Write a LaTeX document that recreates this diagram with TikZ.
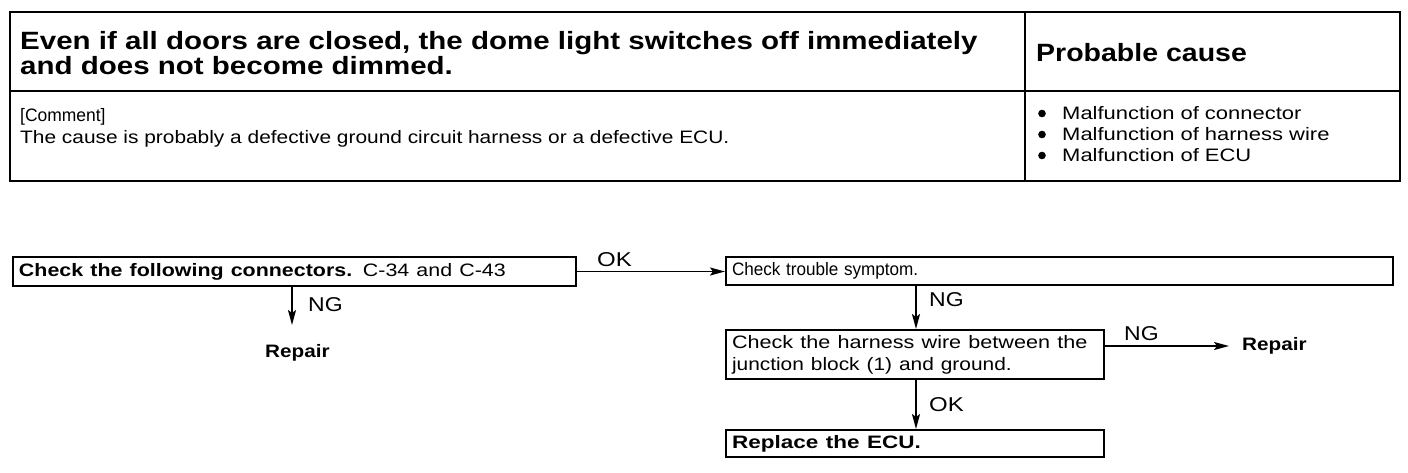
\documentclass[tikz,border=0pt]{standalone}
\usepackage{fontspec}
\usepackage{graphicx}
\setmainfont{Liberation Sans}
\usetikzlibrary{arrows.meta}
\newcommand{\hs}[2]{\scalebox{#1}[1]{#2}}
\begin{document}
\begin{tikzpicture}[x=1pt,y=-1pt,
  stepbox/.style={draw, line width=2pt, anchor=north west, inner xsep=6pt, inner ysep=0pt, align=left, font=\fontsize{18}{22}\selectfont},
  arr/.style={line width=1.8pt, -{Stealth[length=15pt,width=8pt,inset=3pt]}},
  lbl/.style={font=\fontsize{20}{20}\selectfont, inner sep=0pt, anchor=base west},
  hdrtxt/.style={anchor=base west, inner sep=0pt, font=\fontsize{25}{25}\selectfont\bfseries},
  smalltxt/.style={anchor=base west, inner sep=0pt, font=\fontsize{18}{18}\selectfont},
  reptxt/.style={anchor=base west, inner sep=0pt, font=\fontsize{18}{18}\selectfont\bfseries}]
\useasboundingbox (0,0) rectangle (1408,472);
% table
\draw[line width=2.8pt] (10,12) rectangle (1400,181);
\draw[line width=2pt] (10,91) -- (1400,91);
\draw[line width=1.8pt] (1025,12) -- (1025,181);
\node (h1) [hdrtxt] at (20,49) {\hs{1.18}{Even if all doors are closed, the dome light switches off immediately}};
\node (h2) [hdrtxt] at (20,74) {\hs{1.18}{and does not become dimmed.}};
\node (pc) [hdrtxt] at (1036,61) {\hs{1.14}{Probable cause}};
\node (cm1) [smalltxt] at (20,121) {\hs{0.97}{[Comment]}};
\node (cm2) [smalltxt] at (20,143) {\hs{1.16}{The cause is probably a defective ground circuit harness or a defective ECU.}};
\fill (1042,113.5) circle (3.8pt);
\fill (1042,134.5) circle (3.8pt);
\fill (1042,155.5) circle (3.8pt);
\node (pl1) [smalltxt] at (1062,119) {\hs{1.22}{Malfunction of connector}};
\node (pl2) [smalltxt] at (1062,140) {\hs{1.22}{Malfunction of harness wire}};
\node (pl3) [smalltxt] at (1062,161) {\hs{1.22}{Malfunction of ECU}};
% flowchart
\node (b1) [stepbox, minimum width=563pt, minimum height=29pt, text width=551pt] at (12,256)
  {\hs{1.19}{\textbf{Check the following connectors.} C-34 and C-43}};
\node (b2) [stepbox, minimum width=667pt, minimum height=28pt, text width=655pt] at (725,256)
  {\hs{0.95}{Check trouble symptom.}};
\node (b3) [stepbox, minimum width=378pt, minimum height=49pt, text width=366pt] at (725,329)
  {\hs{1.2}{Check the harness wire between the}\\\hs{1.16}{junction block (1) and ground.}};
\node (b4) [stepbox, minimum width=378pt, minimum height=27pt, text width=366pt] at (725,429)
  {\hs{1.25}{\textbf{Replace the ECU.}}};
\node (r1) [reptxt] at (265,357) {\hs{1.15}{Repair}};
\node (r2) [reptxt] at (1242,350) {\hs{1.15}{Repair}};
\coordinate (c1) at (292,325);
\draw[arr] (b1.south -| c1) -- (c1);
\node (ng1) [lbl] at (308,311) {\hs{1.15}{NG}};
\coordinate (c2) at (916,0);
\draw[arr] (b1.east) -- (b1.east -| b2.west);
\node (ok1) [lbl] at (597,266) {\hs{1.2}{OK}};
\draw[arr] (b2.south -| c2) -- (b3.north -| c2);
\node (ng2) [lbl] at (929,306) {\hs{1.15}{NG}};
\coordinate (t2) at (1229,346);
\draw[arr] (b3.east |- t2) -- (t2);
\node (ng3) [lbl] at (1124,340) {\hs{1.15}{NG}};
\draw[arr] (b3.south -| c2) -- (b4.north -| c2);
\node (ok2) [lbl] at (929,411) {\hs{1.2}{OK}};
\end{tikzpicture}
\end{document}
